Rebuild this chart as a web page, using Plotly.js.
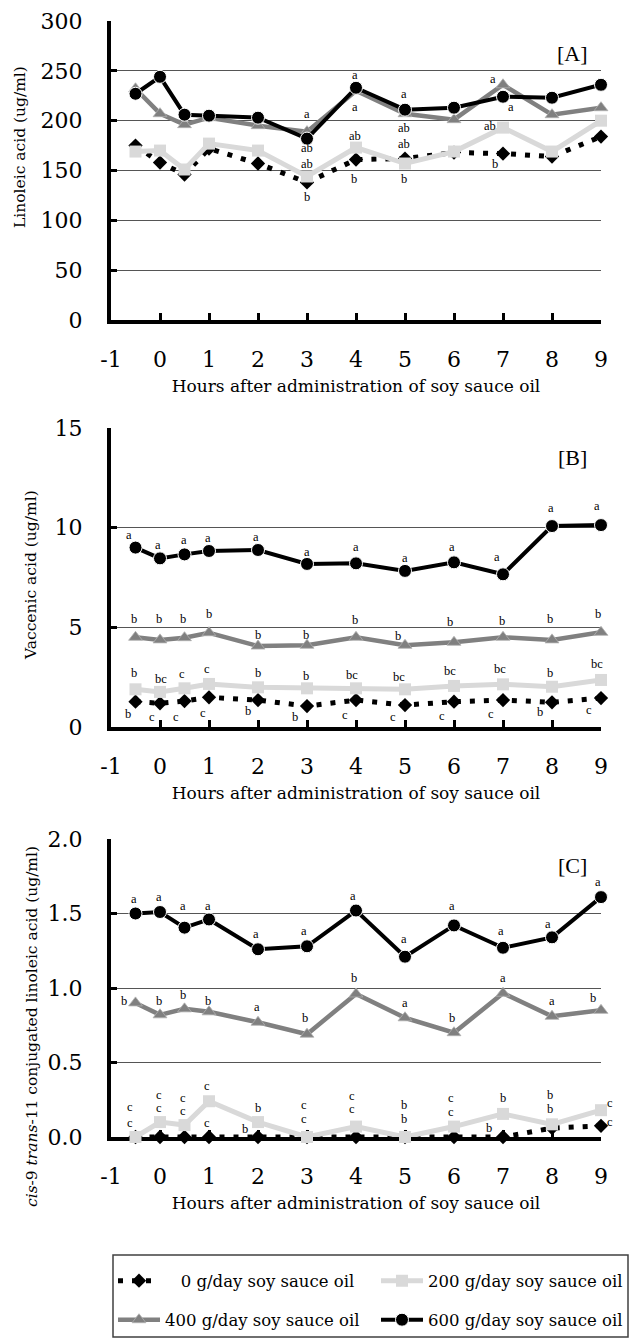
<!DOCTYPE html>
<html><head><meta charset="utf-8">
<script src="https://cdn.plot.ly/plotly-3.0.1.min.js"></script>
<style>body{margin:0;padding:0;background:#fff}#chart{width:630px;height:1339px}</style>
</head><body><div id="chart"></div>
<script>
// ---------- data ----------
const hours = [-0.5, 0, 0.5, 1, 2, 3, 4, 5, 6, 7, 8, 9];
const tickHours = [-1, 0, 1, 2, 3, 4, 5, 6, 7, 8, 9];
const tickHourText = ['-1', '0', '1', '2', '3', '4', '5', '6', '7', '8', '9'];
const seriesNames = ['\u00a0\u00a0\u00a00 g/day soy sauce oil', '200 g/day soy sauce oil', '400 g/day soy sauce oil', '600 g/day soy sauce oil'];

// [A] Linoleic acid (ug/ml)
const linoleic0   = [175, 158, 146, 172, 157, 138, 161, 162, 168, 167, 164, 184];
const linoleic200 = [169, 170, 151, 177, 170, 144, 173, 157, 169, 193, 169, 200];
const linoleic400 = [232, 207, 196, 203, 195, 189, 230, 207, 201, 236, 206, 213];
const linoleic600 = [227, 244, 206, 205, 203, 182, 233, 211, 213, 224, 223, 236];

// [B] Vaccenic acid (ug/ml)
const vaccenic0   = [1.27, 1.19, 1.30, 1.49, 1.35, 1.05, 1.35, 1.10, 1.27, 1.35, 1.24, 1.45];
const vaccenic200 = [1.89, 1.76, 1.94, 2.16, 1.99, 1.94, 1.94, 1.89, 2.06, 2.14, 2.02, 2.36];
const vaccenic400 = [4.50, 4.37, 4.48, 4.73, 4.06, 4.10, 4.50, 4.10, 4.25, 4.50, 4.37, 4.75];
const vaccenic600 = [9.00, 8.46, 8.66, 8.83, 8.88, 8.18, 8.21, 7.83, 8.26, 7.66, 10.08, 10.13];

// [C] cis-9 trans-11 conjugated linoleic acid (ug/ml)
const cla0   = [0, 0, 0, 0, 0, 0, 0, 0, 0, 0, 0.06, 0.075];
const cla200 = [0.00, 0.10, 0.08, 0.24, 0.10, 0.00, 0.07, 0.00, 0.07, 0.155, 0.085, 0.18];
const cla400 = [0.90, 0.82, 0.86, 0.84, 0.77, 0.69, 0.96, 0.80, 0.70, 0.965, 0.81, 0.85];
const cla600 = [1.50, 1.51, 1.405, 1.46, 1.26, 1.28, 1.52, 1.21, 1.42, 1.27, 1.34, 1.61];

// significance letters: [hour, value, letter]
const lettersA_hour  = [2.99, 2.99, 2.99, 2.99, 3.97, 3.97, 3.97, 3.96, 4.98, 4.98, 4.98, 4.98, 6.79, 7.16, 6.73, 6.83];
const lettersA_value = [206.7, 173, 157, 123, 246, 214, 184.7, 141, 227, 192.4, 176.3, 141, 242, 213.4, 194.7, 156.6];
const lettersA_text  = ['a','ab','ab','b','a','a','ab','b','a','ab','ab','b','a','a','ab','b'];

const lettersB_hour = [
  -0.64, -0.04, 0.49, 0.98, 1.96, 2.99, 3.99, 4.99, 5.96, 6.87, 7.98, 8.92,
  -0.53, -0.02, 0.46, 0.99, 2.0, 2.98, 3.98, 4.85, 5.91, 6.97, 7.96, 8.93,
  -0.54, 0.03, 0.44, 0.95, 2.0, 2.98, 3.92, 4.88, 5.91, 6.93, 7.95, 8.92,
  -0.66, -0.16, 0.33, 0.87, 1.80, 2.76, 3.77, 4.75, 5.76, 6.76, 7.75, 8.75];
const lettersB_value = [
  9.64, 9.13, 9.38, 9.47, 9.52, 8.80, 9.02, 8.50, 9.02, 8.51, 10.97, 11.09,
  5.40, 5.40, 5.40, 5.65, 4.62, 4.62, 5.37, 4.57, 5.28, 5.33, 5.40, 5.65,
  2.69, 2.42, 2.64, 2.91, 2.69, 2.56, 2.61, 2.53, 2.81, 2.89, 2.72, 3.16,
  0.65, 0.50, 0.50, 0.70, 0.80, 0.50, 0.60, 0.50, 0.55, 0.65, 0.75, 0.85];
const lettersB_text = [
  'a','a','a','a','a','a','a','a','a','a','a','a',
  'b','b','b','b','b','b','b','b','b','b','b','b',
  'b','bc','c','c','b','b','bc','bc','bc','bc','b','bc',
  'b','c','c','c','b','b','c','c','c','c','b','c'];

const lettersC_hour = [
  -0.54, -0.03, 0.46, 0.97, 1.96, 2.94, 3.94, 4.97, 5.95, 6.95, 7.92, 8.93,
  -0.73, -0.02, 0.47, 0.97, 1.97, 2.96, 3.96, 5.0, 5.95, 6.99, 7.99, 8.83,
  -0.61, -0.03, 0.46, 0.96, 2.0, 2.94, 3.92, 4.97, 5.93, 6.99, 7.96, 9.0,
  -0.61, -0.03, 0.46, 0.95, 1.73, 2.94, 3.92, 4.97, 5.93, 6.71, 7.96, 9.0];
const lettersC_value = [
  1.60, 1.61, 1.55, 1.55, 1.36, 1.38, 1.62, 1.33, 1.55, 1.38, 1.43, 1.71,
  0.91, 0.91, 0.95, 0.91, 0.87, 0.80, 1.07, 0.90, 0.80, 1.07, 0.91, 0.93,
  0.20, 0.285, 0.265, 0.34, 0.195, 0.215, 0.275, 0.215, 0.26, 0.26, 0.28, 0.23,
  0.094, 0.195, 0.175, 0.094, 0.054, 0.12, 0.185, 0.12, 0.17, 0.06, 0.19, 0.10];
const lettersC_text = [
  'a','a','a','a','a','a','a','a','a','a','a','a',
  'b','b','b','b','a','b','b','a','b','a','a','b',
  'c','c','c','c','b','c','c','b','c','b','b','c',
  'c','c','c','c','b','c','c','b','c','b','b','c'];

const panelTags = ['[A]', '[B]', '[C]'];
const yTitles = ['Linoleic acid (ug/ml)', 'Vaccenic acid (ug/ml)', '<i>cis</i>-9 <i>trans</i>-11 conjugated linoleic acid (ug/ml)'];
const xTitle = 'Hours after administration of soy sauce oil';

// ---------- styling ----------
const W = 630, H = 1339;
const px = v => v / W;
const py = v => 1 - v / H;
const SERIF = 'DejaVu Serif, serif';
const LSERIF = 'Liberation Serif, serif';

const styles = [
  {line: {color: '#000000', width: 5, dash: '5px,9px'}, marker: {symbol: 'diamond', size: 11, color: '#000000'}},
  {line: {color: '#d9d9d9', width: 5}, marker: {symbol: 'square', size: 12, color: '#d9d9d9'}},
  {line: {color: '#808080', width: 4.5}, marker: {symbol: 'triangle-up', size: 12, color: '#808080', line: {color: '#b0b0b0', width: 0.8}}},
  {line: {color: '#000000', width: 4}, marker: {symbol: 'circle', size: 13, color: '#000000', line: {color: '#ffffff', width: 1}}}
];
const legendOf = ['legend', 'legend', 'legend2', 'legend2'];

const panels = [
  {series: [linoleic0, linoleic200, linoleic400, linoleic600], yr: [0, 300], dtick: 50, fmt: 'd', top: 21, bottom: 320,
   lh: lettersA_hour, lv: lettersA_value, lt: lettersA_text, tagY: 267, titleX: 20, titleY: 147},
  {series: [vaccenic0, vaccenic200, vaccenic400, vaccenic600], yr: [0, 15], dtick: 5, fmt: 'd', top: 428, bottom: 727,
   lh: lettersB_hour, lv: lettersB_value, lt: lettersB_text, tagY: 13.5, titleX: 31, titleY: 575},
  {series: [cla0, cla200, cla400, cla600], yr: [0, 2], dtick: 0.5, fmt: '.1f', top: 839, bottom: 1137,
   lh: lettersC_hour, lv: lettersC_value, lt: lettersC_text, tagY: 1.82, titleX: 32, titleY: 1027}
];

const traces = [];
const legendCommon = {orientation: 'h', xanchor: 'left', yanchor: 'middle',
  entrywidth: 206, entrywidthmode: 'pixels', itemwidth: 42, bgcolor: 'rgba(0,0,0,0)', borderwidth: 0,
  font: {family: SERIF, size: 16.5, color: '#000'}, traceorder: 'normal'};
const layout = {
  width: W, height: H,
  margin: {l: 0, r: 0, t: 0, b: 0, autoexpand: false},
  paper_bgcolor: '#ffffff', plot_bgcolor: '#ffffff',
  font: {family: SERIF, color: '#000000'},
  showlegend: true,
  annotations: [],
  shapes: [{type: 'rect', xref: 'paper', yref: 'paper', x0: px(113), x1: px(628), y0: py(1337), y1: py(1255),
            line: {color: '#404040', width: 1.5}, fillcolor: 'rgba(0,0,0,0)'}],
  legend: Object.assign({}, legendCommon, {x: px(113), y: py(1281)}),
  legend2: Object.assign({}, legendCommon, {x: px(113), y: py(1320)})
};

panels.forEach((p, i) => {
  const k = i === 0 ? '' : String(i + 1);
  const xa = 'x' + k, ya = 'y' + k;
  p.series.forEach((vals, s) => {
    traces.push({
      type: 'scatter', mode: 'lines+markers', x: hours, y: vals,
      name: seriesNames[s], xaxis: xa, yaxis: ya, cliponaxis: false,
      line: styles[s].line, marker: styles[s].marker,
      showlegend: i === 0, legend: legendOf[s],
      hoverinfo: 'x+y+name'
    });
  });
  layout['xaxis' + k] = {
    domain: [px(111), px(601)], anchor: ya, range: [-1, 9], automargin: false,
    tickmode: 'array', tickvals: tickHours, ticktext: tickHourText,
    showline: true, linewidth: 4, linecolor: '#000', mirror: false, layer: 'below traces',
    ticks: 'inside', ticklen: 7, tickwidth: 3, tickcolor: '#000',
    showgrid: false, zeroline: false,
    tickfont: {family: SERIF, size: 22, color: '#000'}, ticklabelstandoff: 17,
    title: {text: xTitle, font: {family: SERIF, size: 17, color: '#000'}, standoff: 10},
    fixedrange: true
  };
  layout['yaxis' + k] = {
    domain: [py(p.bottom), py(p.top)], anchor: xa, range: p.yr, dtick: p.dtick, tick0: 0, tickformat: p.fmt, automargin: false,
    showline: true, linewidth: 4, linecolor: '#000', layer: 'below traces',
    ticks: 'inside', ticklen: 6, tickwidth: 3, tickcolor: '#000',
    showgrid: true, gridcolor: '#555555', gridwidth: 1, zeroline: false,
    tickfont: {family: SERIF, size: 22, color: '#000'}, ticklabelstandoff: 20,
    fixedrange: true
  };
  layout.annotations.push({xref: 'paper', yref: 'paper', x: px(p.titleX), y: py(p.titleY), xanchor: 'center', yanchor: 'middle',
    text: yTitles[i], textangle: -90, showarrow: false, font: {family: SERIF, size: 15.5, color: '#000'}});
  layout.annotations.push({xref: xa, yref: ya, x: 8.42, y: p.tagY, text: panelTags[i], showarrow: false,
    font: {family: LSERIF, size: 22, color: '#000'}});
  p.lt.forEach((t, j) => {
    const h = p.lh[j];
    const a = {xref: xa, yref: ya, x: Math.min(h, 9), y: p.lv[j], text: t, showarrow: false,
      font: {family: LSERIF, size: 12.5, color: '#000000'}, xanchor: 'center', yanchor: 'middle'};
    if (h >= 9) { a.xanchor = 'left'; a.xshift = 4; }
    layout.annotations.push(a);
  });
});

Plotly.newPlot('chart', traces, layout, {staticPlot: true, displayModeBar: false});
</script>
</body></html>
